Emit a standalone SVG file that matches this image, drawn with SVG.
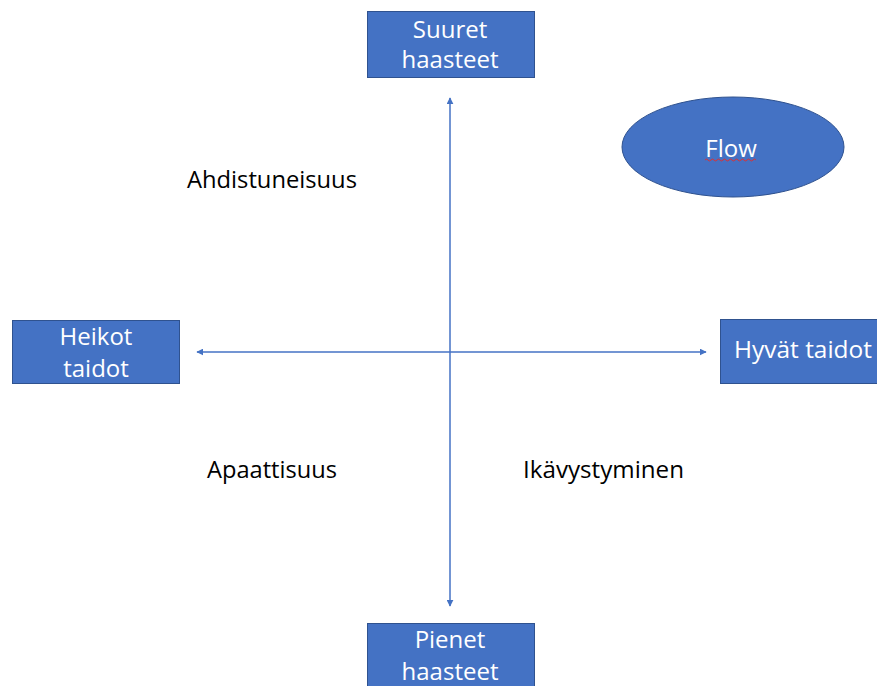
<svg xmlns="http://www.w3.org/2000/svg" width="877" height="686" viewBox="0 0 877 686">
<style>
.box{fill:#4472C4;stroke:#2F528F;stroke-width:1}
.wt{fill:#ffffff;font-family:"Open Sans","Liberation Sans",sans-serif;font-size:24px;text-anchor:middle}
.bt{fill:#000000;font-family:"Open Sans","Liberation Sans",sans-serif;font-size:23px}
.ax{stroke:#4472C4;stroke-width:1.5;fill:none}
</style>
<defs>
<marker id="ah" viewBox="0 0 10 10" refX="9" refY="5" markerWidth="7" markerHeight="7" orient="auto-start-reverse" markerUnits="userSpaceOnUse">
<path d="M0,0 L10,5 L0,10 z" fill="#4472C4"/>
</marker>
</defs>
<rect width="877" height="686" fill="#ffffff"/>
<g id="connectors">
<line class="ax" x1="450" y1="98" x2="450" y2="606" marker-start="url(#ah)" marker-end="url(#ah)"/>
<line class="ax" x1="197" y1="352" x2="706" y2="352" marker-start="url(#ah)" marker-end="url(#ah)"/>
</g>
<g id="suuret">
<rect class="box" x="367.5" y="11.5" width="167" height="66"/>
<text class="wt" x="450" y="38">Suuret</text>
<text class="wt" x="450" y="68">haasteet</text>
</g>
<g id="heikot">
<rect class="box" x="12.5" y="320.5" width="167" height="63"/>
<text class="wt" x="96" y="345">Heikot</text>
<text class="wt" x="96" y="377">taidot</text>
</g>
<g id="hyvat">
<rect class="box" x="720.5" y="319.5" width="170" height="64"/>
<text class="wt" x="803" y="358" textLength="138" lengthAdjust="spacingAndGlyphs">Hyvät taidot</text>
</g>
<g id="pienet">
<rect class="box" x="367.5" y="623.5" width="167" height="70"/>
<text class="wt" x="450" y="648">Pienet</text>
<text class="wt" x="450" y="680">haasteet</text>
</g>
<g id="flow">
<ellipse cx="733" cy="147" rx="111" ry="50" fill="#4472C4" stroke="#2F528F" stroke-width="1"/>
<text class="wt" x="731" y="157">Flow</text>
<path d="M705,160 q1.5,-2 3,0 t3,0 t3,0 t3,0 t3,0 t3,0 t3,0 t3,0 t3,0 t3,0 t3,0 t3,0 t3,0 t3,0 t3,0 t3,0 t3,0" fill="none" stroke="#E03030" stroke-width="1"/>
</g>
<g id="labels">
<text class="bt" x="187" y="188" textLength="170" lengthAdjust="spacingAndGlyphs">Ahdistuneisuus</text>
<text class="bt" x="207" y="478" textLength="130" lengthAdjust="spacingAndGlyphs">Apaattisuus</text>
<text class="bt" x="523" y="478" textLength="161" lengthAdjust="spacingAndGlyphs">Ikävystyminen</text>
</g>
</svg>
